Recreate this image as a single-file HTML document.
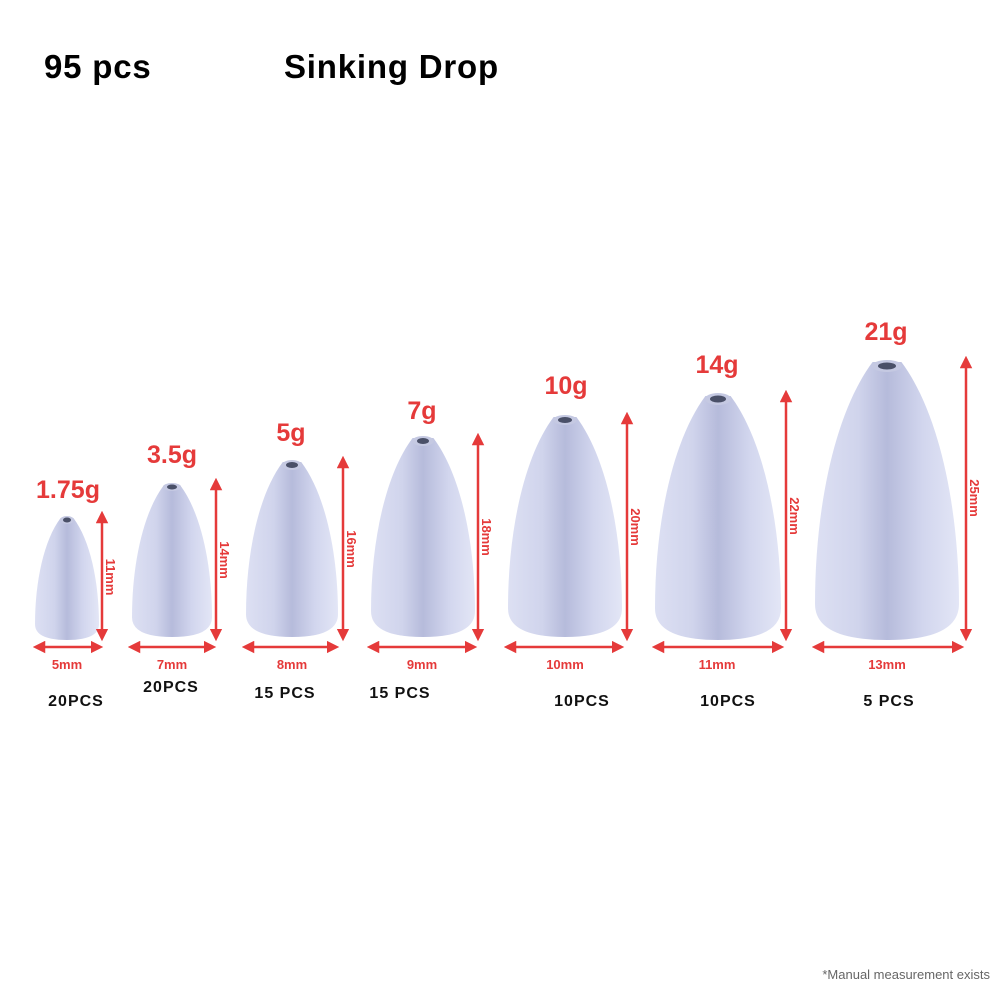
<!DOCTYPE html>
<html><head><meta charset="utf-8"><style>
html,body{margin:0;padding:0;background:#fff;}
svg{display:block;}
</style></head><body>
<svg width="1000" height="1000" viewBox="0 0 1000 1000" xmlns="http://www.w3.org/2000/svg" font-family="Liberation Sans, sans-serif">
<defs>
<linearGradient id="g" x1="0" y1="0" x2="1" y2="0">
<stop offset="0" stop-color="#dde0f3"/><stop offset="0.3" stop-color="#d0d4ec"/><stop offset="0.5" stop-color="#b6bbdb"/><stop offset="0.75" stop-color="#d2d6ee"/><stop offset="1" stop-color="#e3e6f6"/>
</linearGradient>
<marker id="a" viewBox="0 0 10 10" refX="1" refY="5" markerWidth="5" markerHeight="5" orient="auto-start-reverse"><path d="M0,0 L10,5 L0,10 Z" fill="#e53a3a"/></marker>
<path id="b" d="M-0.2,0 C-0.72,0.18 -1,0.52 -1,0.87 Q-1,1 0,1 Q1,1 1,0.87 C1,0.52 0.72,0.18 0.2,0 Z"/>
</defs>
<text x="44" y="78" font-size="33" font-weight="bold" letter-spacing="0.8">95 pcs</text>
<text x="284" y="78" font-size="33" font-weight="bold" letter-spacing="0.8">Sinking Drop</text>

<g fill="url(#g)">
<use href="#b" transform="translate(67,518) scale(32,122)"/>
<use href="#b" transform="translate(172,485) scale(40,152)"/>
<use href="#b" transform="translate(292,462) scale(46,175)"/>
<use href="#b" transform="translate(423,438) scale(52,199)"/>
<use href="#b" transform="translate(565,417) scale(57,220)"/>
<use href="#b" transform="translate(718,396) scale(63,244)"/>
<use href="#b" transform="translate(887,362) scale(72,278)"/>
</g>
<g fill="#c5c9e2">
<ellipse cx="67" cy="520" rx="7" ry="4"/><ellipse cx="172" cy="487" rx="9" ry="4"/><ellipse cx="292" cy="465" rx="10" ry="5"/><ellipse cx="423" cy="441" rx="11" ry="5"/><ellipse cx="565" cy="420" rx="12" ry="5"/><ellipse cx="718" cy="399" rx="13" ry="6"/><ellipse cx="887" cy="366" rx="15" ry="6"/>
</g>
<g fill="#4a5068">
<ellipse cx="67" cy="520" rx="4" ry="2.5"/><ellipse cx="172" cy="487" rx="5" ry="2.5"/><ellipse cx="292" cy="465" rx="6" ry="3"/><ellipse cx="423" cy="441" rx="6" ry="3"/><ellipse cx="565" cy="420" rx="7" ry="3"/><ellipse cx="718" cy="399" rx="8" ry="3.5"/><ellipse cx="887" cy="366" rx="9" ry="3.5"/>
</g>

<g stroke="#e53a3a" stroke-width="2.5" marker-start="url(#a)" marker-end="url(#a)">
<line x1="102" y1="522" x2="102" y2="630"/>
<line x1="216" y1="489" x2="216" y2="630"/>
<line x1="343" y1="467" x2="343" y2="630"/>
<line x1="478" y1="444" x2="478" y2="630"/>
<line x1="627" y1="423" x2="627" y2="630"/>
<line x1="786" y1="401" x2="786" y2="630"/>
<line x1="966" y1="367" x2="966" y2="630"/>
<line x1="44" y1="647" x2="92" y2="647"/>
<line x1="139" y1="647" x2="205" y2="647"/>
<line x1="253" y1="647" x2="328" y2="647"/>
<line x1="378" y1="647" x2="466" y2="647"/>
<line x1="515" y1="647" x2="613" y2="647"/>
<line x1="663" y1="647" x2="773" y2="647"/>
<line x1="823" y1="647" x2="953" y2="647"/>
</g>

<g fill="#e53a3a" font-size="13" text-anchor="middle" font-weight="bold">
<text x="67" y="669">5mm</text><text x="172" y="669">7mm</text><text x="292" y="669">8mm</text><text x="422" y="669">9mm</text><text x="565" y="669">10mm</text><text x="717" y="669">11mm</text><text x="887" y="669">13mm</text>
<text transform="translate(106,577) rotate(90)">11mm</text>
<text transform="translate(220,560) rotate(90)">14mm</text>
<text transform="translate(347,549) rotate(90)">16mm</text>
<text transform="translate(482,537) rotate(90)">18mm</text>
<text transform="translate(631,527) rotate(90)">20mm</text>
<text transform="translate(790,516) rotate(90)">22mm</text>
<text transform="translate(970,498) rotate(90)">25mm</text>
</g>
<g fill="#e53a3a" font-size="25" font-weight="bold" text-anchor="middle">
<text x="68" y="498">1.75g</text><text x="172" y="463">3.5g</text><text x="291" y="441">5g</text><text x="422" y="419">7g</text><text x="566" y="394">10g</text><text x="717" y="373">14g</text><text x="886" y="340">21g</text>
</g>
<g fill="#111" font-size="16" font-weight="bold" text-anchor="middle" letter-spacing="1">
<text x="76" y="706">20PCS</text><text x="171" y="692">20PCS</text><text x="285" y="698">15 PCS</text><text x="400" y="698">15 PCS</text><text x="582" y="706">10PCS</text><text x="728" y="706">10PCS</text><text x="889" y="706">5 PCS</text>
</g>
<text x="990" y="979" font-size="13" fill="#666" text-anchor="end">*Manual measurement exists</text>
</svg>
</body></html>
